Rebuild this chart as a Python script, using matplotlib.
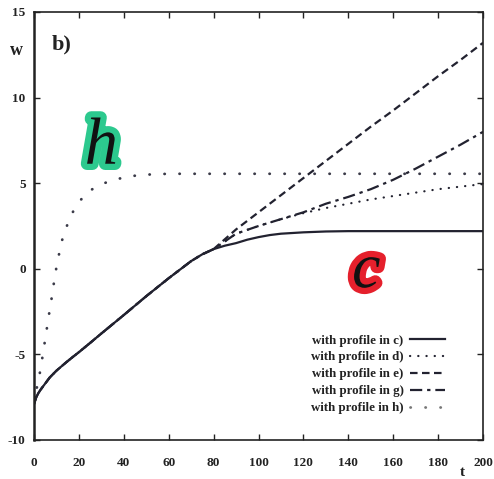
import matplotlib
matplotlib.use('Agg')
import matplotlib.pyplot as plt
import matplotlib.patheffects as pe
from matplotlib.lines import Line2D

# shared rise (all profiles follow this up to t~80)
t_base = [0, 1, 2, 3, 5, 7, 10, 14, 17, 20, 25, 30, 40, 50, 60, 70, 75, 80]
w_base = [-7.9, -7.5, -7.25, -7.05, -6.7, -6.35, -5.95, -5.5, -5.18, -4.87, -4.33,
          -3.78, -2.7, -1.6, -0.55, 0.45, 0.85, 1.15]

# profile c) - saturates
t_c = t_base + [85, 90, 95, 100, 105, 110, 120, 130, 140, 200]
w_c = w_base + [1.35, 1.5, 1.7, 1.85, 1.97, 2.05, 2.13, 2.18, 2.2, 2.2]

# profile d)
t_d = t_base + [90, 100, 110, 120, 130, 140, 150, 160, 170, 180, 190, 200]
w_d = w_base + [2.05, 2.5, 2.9, 3.25, 3.55, 3.8, 4.05, 4.25, 4.45, 4.65, 4.8, 4.95]

# profile e)
t_e = t_base + [90, 100, 110, 120, 130, 140, 150, 160, 170, 180, 190, 200]
w_e = w_base + [2.3, 3.3, 4.3, 5.3, 6.3, 7.3, 8.3, 9.25, 10.25, 11.25, 12.2, 13.2]

# profile g)
t_g = t_base + [90, 100, 110, 120, 130, 140, 150, 160, 170, 180, 190, 200]
w_g = w_base + [2.05, 2.5, 2.9, 3.3, 3.8, 4.2, 4.65, 5.2, 5.85, 6.55, 7.25, 8.0]

# profile h) - fast rise
t_h = [0, 1, 2, 3, 4, 5, 6, 7, 8, 9, 10, 11, 12, 14, 17, 20, 24, 30, 36, 42, 50, 60, 200]
w_h = [-7.8, -7.1, -6.5, -5.8, -4.95, -4.1, -3.25, -2.4, -1.6, -0.7, 0.1, 0.75,
       1.45, 2.3, 3.25, 3.9, 4.5, 4.95, 5.2, 5.4, 5.5, 5.55, 5.55]

labels = ['with profile in c)', 'with profile in d)', 'with profile in e)',
          'with profile in g)', 'with profile in h)']

xticks = [0, 20, 40, 60, 80, 100, 120, 140, 160, 180, 200]
yticks = [-10, -5, 0, 5, 10, 15]

plt.rcParams['font.family'] = ['Liberation Serif', 'DejaVu Serif']

fig = plt.figure(figsize=(4.94, 4.79), dpi=100)
ax = fig.add_axes([34/494, 1-440/479, 449/494, 428/479])

lc = '#222230'
ax.plot(t_c, w_c, color=lc, lw=1.6, solid_capstyle='round')
ax.plot(t_d, w_d, color=lc, lw=1.6, linestyle=(0, (0.1, 3.6)), dash_capstyle='round')
ax.plot(t_e, w_e, color=lc, lw=1.6, linestyle=(0, (3.4, 2.0)))
ax.plot(t_g, w_g, color=lc, lw=1.6, linestyle=(0, (5.5, 2.2, 1.5, 2.2)))
ax.plot(t_h, w_h, color='#3a3a48', lw=2.0, linestyle=(0, (0.1, 5.3)), dash_capstyle='round')

ax.set_xlim(0, 200)
ax.set_ylim(-10, 15)
ax.set_xticks(xticks)
ax.set_yticks(yticks)
ax.set_xticklabels([str(v) for v in xticks], fontsize=9.5, fontweight='bold', color='#222')
ax.set_yticklabels([str(v) for v in yticks], fontsize=9.5, fontweight='bold', color='#222')
ax.tick_params(direction='in', length=4, width=1.0, top=True, right=True, color='#222')
ax.tick_params(axis='x', pad=12)
ax.tick_params(axis='y', pad=6)
for s in ax.spines.values():
    s.set_color('#222')
    s.set_linewidth(1.2)
ax.spines['left'].set_linewidth(1.8)

ax.text(-0.04, 0.911, 'w', transform=ax.transAxes, fontsize=13, fontweight='bold',
        ha='center', va='center', color='#222')
ax.text(0.062, 0.923, 'b)', transform=ax.transAxes, fontsize=16, fontweight='bold',
        ha='center', va='center', color='#222')
ax.text(0.955, -0.075, 't', transform=ax.transAxes, fontsize=11, fontweight='bold',
        ha='center', va='center', color='#222')

# hand-written marks
ax.text(30, 7.1, 'h', fontsize=48, fontstyle='italic', color='#111',
        ha='center', va='center',
        path_effects=[pe.withStroke(linewidth=9, foreground='#2cc98e')])
ax.text(148, -0.2, 'c', fontsize=46, fontstyle='italic', color='#111',
        ha='center', va='center',
        path_effects=[pe.withStroke(linewidth=9, foreground='#e5202c')])

handles = [
    Line2D([], [], color=lc, lw=1.6),
    Line2D([], [], color=lc, lw=1.6, linestyle=(0, (0.1, 3.6)), dash_capstyle='round'),
    Line2D([], [], color=lc, lw=1.6, linestyle=(0, (3.4, 2.0))),
    Line2D([], [], color=lc, lw=1.6, linestyle=(0, (5.5, 2.2, 1.5, 2.2))),
    Line2D([], [], color='#777', lw=2.0, linestyle=(0, (0.1, 5.3)), dash_capstyle='round'),
]
leg = ax.legend(handles, labels, loc='lower right', bbox_to_anchor=(0.915, 0.06),
                frameon=False, markerfirst=False, handlelength=2.7, handletextpad=0.5,
                labelspacing=0.38, borderpad=0, borderaxespad=0,
                prop={'size': 9.3, 'weight': 'bold'})
for txt in leg.get_texts():
    txt.set_color('#222')

fig.savefig('out.png', dpi=100)
